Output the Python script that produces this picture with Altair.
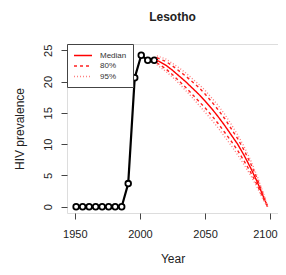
import altair as alt
import pandas as pd

# Observed HIV prevalence
obs_year = [1951, 1956, 1961, 1966, 1971, 1976, 1981, 1986, 1991, 1996, 2001, 2006, 2011]
obs_val = [0, 0, 0, 0, 0, 0, 0, 0, 3.7, 20.6, 24.2, 23.4, 23.4]

# Projection
proj_year = [2013, 2020, 2025, 2030, 2035, 2040, 2045, 2050, 2055, 2060, 2065, 2070, 2075, 2080, 2085, 2090, 2095, 2098]
median = [23.4, 22.6, 21.8, 20.9, 20.0, 19.0, 18.0, 16.9, 15.7, 14.4, 13.0, 11.5, 10.0, 8.2, 6.2, 4.0, 1.5, 0.0]
lo80 = [23.0, 22.0, 21.1, 20.1, 19.1, 18.0, 16.9, 15.8, 14.6, 13.3, 11.9, 10.5, 9.0, 7.3, 5.5, 3.5, 1.2, 0.0]
hi80 = [23.8, 23.2, 22.5, 21.7, 20.9, 20.0, 19.1, 18.0, 16.8, 15.5, 14.1, 12.5, 10.9, 9.0, 6.9, 4.5, 1.8, 0.0]
lo95 = [22.7, 21.6, 20.7, 19.7, 18.6, 17.5, 16.3, 15.1, 13.9, 12.6, 11.2, 9.8, 8.3, 6.7, 5.0, 3.1, 1.0, 0.0]
hi95 = [24.1, 23.6, 22.9, 22.2, 21.4, 20.5, 19.6, 18.6, 17.4, 16.2, 14.8, 13.2, 11.5, 9.6, 7.4, 4.9, 2.0, 0.0]

x_ticks = [1950, 2000, 2050, 2100]
y_ticks = [0, 5, 10, 15, 20, 25]
band_names = ["Median", "80%", "95%"]

obs = pd.DataFrame({"year": obs_year, "value": obs_val})

rows = []
for name, bound, vals in [("Median", "med", median), ("80%", "lo", lo80), ("80%", "hi", hi80),
                          ("95%", "lo", lo95), ("95%", "hi", hi95)]:
    for y, v in zip(proj_year, vals):
        rows.append({"year": y, "value": v, "band": name, "bound": name + bound})
proj = pd.DataFrame(rows)

xscale = alt.Scale(domain=[1944, 2106], nice=False, zero=False)
yscale = alt.Scale(domain=[-1, 26], nice=False, zero=False)

xaxis = alt.Axis(values=x_ticks, title="Year", grid=False, domain=False,
                 tickSize=6, tickColor="#444", labelFontSize=11, labelPadding=9,
                 titleFontSize=12, titleFontWeight="normal", titlePadding=14, labelColor="#222",
                 titleColor="#222", format="d", labelOverlap=False, labelFlush=False,
                 labelAlign={"condition": {"test": "datum.value == 2100", "value": "right"},
                             "value": "center"},
                 labelOffset={"condition": {"test": "datum.value == 2100", "value": 7},
                              "value": 0})
yaxis = alt.Axis(values=y_ticks, title="HIV prevalence", grid=False, domain=False,
                 tickSize=6, tickColor="#444", labelFontSize=11, labelAngle=270, labelAlign="center",
                 labelBaseline="bottom", labelPadding=8, titleFontSize=12, titleFontWeight="normal",
                 titlePadding=16, labelColor="#222", titleColor="#222", labelOverlap=False,
                 labelFlush=False, tickCount=6)

base_line = alt.Chart(obs).mark_line(color="black", strokeWidth=2.2).encode(
    x=alt.X("year:Q"), y=alt.Y("value:Q"))
pts = alt.Chart(obs).mark_point(shape="circle", filled=True, fill="white", stroke="black",
                                strokeWidth=1.8, size=32, opacity=1).encode(
    x=alt.X("year:Q"), y=alt.Y("value:Q"))

bands = alt.Chart(proj).mark_line(strokeWidth=1.4).encode(
    x=alt.X("year:Q"), y=alt.Y("value:Q"),
    color=alt.Color("band:N", scale=alt.Scale(domain=band_names,
                                              range=["#ff0000", "#ff2020", "#ff8080"]),
                    legend=alt.Legend(title=None, orient="none", legendX=0, legendY=0,
                                      strokeColor="#444", padding=6, labelFontSize=8,
                                      symbolType="M-1,0H3", symbolSize=81, symbolStrokeWidth=1.4,
                                      rowPadding=0.5, labelColor="#333", fillColor="white",
                                      labelOffset=16)),
    strokeDash=alt.StrokeDash("band:N", scale=alt.Scale(domain=band_names,
                                                        range=[[1, 0], [3, 3], [1, 2]]),
                              legend=alt.Legend(title=None, orient="none", legendX=0, legendY=0)),
    detail="bound:N",
)

chart = alt.layer(base_line, pts, bands).encode(
    x=alt.X("year:Q", scale=xscale, axis=xaxis),
    y=alt.Y("value:Q", scale=yscale, axis=yaxis),
).properties(
    width=211, height=169,
    title=alt.TitleParams("Lesotho", fontSize=12, fontWeight="bold", offset=20, color="#222"),
    autosize=alt.AutoSizeParams(type="none"),
    padding={"left": 59, "top": 36, "right": 0, "bottom": 54},
).configure_view(stroke="#444", strokeWidth=1).configure(font="Liberation Sans")

chart.save("out.html", embed_options={"renderer": "svg", "actions": False})
